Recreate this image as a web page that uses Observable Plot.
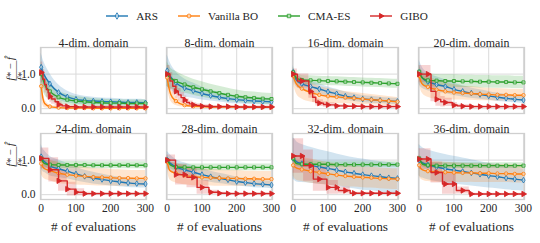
<!DOCTYPE html>
<html><head><meta charset="utf-8">
<script src="https://cdn.jsdelivr.net/npm/d3@7"></script>
<script src="https://cdn.jsdelivr.net/npm/@observablehq/plot@0.6"></script>
<style>
body{margin:0;background:#fff;font-family:"Liberation Serif",serif;color:#262626;}
#legend{height:30px;display:flex;justify-content:center;align-items:center;padding-top:2px;padding-right:6px;box-sizing:border-box;}
.item{display:flex;align-items:center;margin:0 10px;font-size:11.2px;}
.item svg{margin-right:8px;}
</style></head><body>
<div id="legend"></div>
<div id="chart"></div>
<script>
const PANELS = ["4-dim. domain","8-dim. domain","16-dim. domain","20-dim. domain","24-dim. domain","28-dim. domain","32-dim. domain","36-dim. domain"];
const METHODS = ["ARS","Vanilla BO","CMA-ES","GIBO"];
const COLORS = ["#1f77b4","#ff7f0e","#2ca02c","#d62728"];
const SYMBOLS = ["diamond","circle","square","triangle"];
const X_TICKS = [0,100,200,300];
const Y_TICKS = [0,1];
const X_LABEL = "# of evaluations";
const Y_NUM = "f* − f̂";
const Y_BAR = "——";
const Y_DEN = "f*";

const EVALS = [0,5,10,25,50,75,100,125,150,175,200,225,250,275,300];

const ARS_MEAN = [
 [1.2,1.05,0.95,0.72,0.47,0.34,0.27,0.24,0.22,0.21,0.2,0.19,0.18,0.18,0.17],
 [1.1,1.0,0.92,0.75,0.6,0.52,0.44,0.38,0.33,0.29,0.26,0.24,0.22,0.21,0.2],
 [1.05,0.9,0.82,0.72,0.64,0.57,0.49,0.43,0.36,0.32,0.28,0.26,0.24,0.22,0.21],
 [1.05,0.95,0.88,0.78,0.7,0.64,0.56,0.5,0.45,0.41,0.37,0.33,0.3,0.27,0.25],
 [1.1,1.0,0.95,0.83,0.75,0.68,0.6,0.53,0.48,0.44,0.4,0.37,0.34,0.32,0.31],
 [1.0,0.95,0.9,0.8,0.72,0.65,0.58,0.52,0.47,0.43,0.38,0.35,0.32,0.3,0.28],
 [1.05,1.0,0.95,0.9,0.85,0.8,0.76,0.71,0.66,0.62,0.58,0.55,0.52,0.49,0.47],
 [1.0,0.95,0.92,0.86,0.8,0.75,0.71,0.67,0.63,0.59,0.55,0.52,0.48,0.45,0.42]
];
const ARS_SD = [
 [0.4,0.38,0.35,0.3,0.22,0.17,0.14,0.12,0.11,0.1,0.1,0.1,0.09,0.09,0.09],
 [0.45,0.42,0.38,0.32,0.26,0.22,0.19,0.16,0.14,0.13,0.12,0.11,0.1,0.1,0.1],
 [0.2,0.2,0.19,0.17,0.16,0.15,0.14,0.13,0.12,0.11,0.1,0.1,0.09,0.09,0.09],
 [0.35,0.33,0.3,0.26,0.22,0.2,0.18,0.16,0.15,0.14,0.13,0.12,0.11,0.1,0.1],
 [0.35,0.33,0.31,0.28,0.25,0.22,0.2,0.18,0.17,0.16,0.15,0.14,0.13,0.12,0.12],
 [0.25,0.25,0.24,0.22,0.2,0.18,0.17,0.16,0.15,0.14,0.13,0.12,0.12,0.11,0.11],
 [0.6,0.6,0.58,0.55,0.52,0.5,0.48,0.47,0.46,0.45,0.45,0.44,0.44,0.44,0.43],
 [0.45,0.45,0.44,0.43,0.42,0.41,0.4,0.39,0.38,0.37,0.36,0.35,0.34,0.33,0.32]
];
const BO_MEAN = [
 [0.65,0.3,0.15,0.06,0.03,0.02,0.02,0.02,0.01,0.01,0.01,0.01,0.01,0.01,0.01],
 [0.9,0.6,0.42,0.22,0.1,0.07,0.06,0.05,0.05,0.05,0.05,0.04,0.04,0.04,0.04],
 [0.95,0.8,0.7,0.58,0.47,0.4,0.36,0.34,0.32,0.3,0.28,0.26,0.24,0.22,0.2],
 [0.95,0.78,0.7,0.63,0.55,0.5,0.47,0.45,0.44,0.42,0.41,0.4,0.4,0.39,0.39],
 [0.9,0.8,0.75,0.7,0.62,0.58,0.55,0.53,0.51,0.5,0.49,0.48,0.48,0.47,0.47],
 [0.95,0.75,0.68,0.62,0.56,0.52,0.5,0.49,0.48,0.47,0.47,0.46,0.46,0.45,0.45],
 [0.85,0.8,0.77,0.73,0.68,0.64,0.6,0.57,0.54,0.52,0.5,0.49,0.47,0.46,0.45],
 [0.85,0.75,0.72,0.68,0.66,0.65,0.64,0.63,0.63,0.62,0.62,0.61,0.61,0.6,0.6]
];
const BO_SD = [
 [0.3,0.2,0.12,0.05,0.03,0.02,0.02,0.02,0.02,0.02,0.02,0.02,0.02,0.02,0.02],
 [0.25,0.22,0.2,0.13,0.06,0.04,0.03,0.03,0.03,0.03,0.03,0.03,0.03,0.03,0.03],
 [0.2,0.25,0.28,0.3,0.28,0.25,0.22,0.2,0.18,0.17,0.16,0.15,0.14,0.13,0.12],
 [0.2,0.25,0.27,0.3,0.28,0.25,0.22,0.2,0.2,0.19,0.18,0.18,0.17,0.17,0.17],
 [0.3,0.3,0.3,0.3,0.3,0.28,0.27,0.26,0.25,0.25,0.24,0.24,0.23,0.23,0.23],
 [0.2,0.25,0.27,0.28,0.27,0.26,0.25,0.24,0.24,0.23,0.23,0.22,0.22,0.22,0.22],
 [0.3,0.35,0.35,0.35,0.35,0.34,0.33,0.32,0.31,0.3,0.3,0.3,0.3,0.3,0.3],
 [0.3,0.3,0.3,0.3,0.3,0.29,0.28,0.28,0.27,0.27,0.27,0.26,0.26,0.26,0.26]
];
const CMA_MEAN = [
 [1.0,0.85,0.7,0.5,0.33,0.26,0.22,0.2,0.18,0.17,0.16,0.16,0.15,0.15,0.15],
 [1.0,0.93,0.88,0.8,0.7,0.62,0.56,0.5,0.45,0.4,0.36,0.33,0.31,0.29,0.28],
 [1.05,0.95,0.88,0.83,0.82,0.81,0.8,0.79,0.78,0.77,0.76,0.75,0.74,0.73,0.72],
 [1.07,0.95,0.88,0.82,0.81,0.8,0.8,0.79,0.79,0.78,0.78,0.77,0.77,0.76,0.76],
 [1.05,0.95,0.9,0.87,0.86,0.86,0.86,0.86,0.85,0.85,0.85,0.85,0.85,0.85,0.85],
 [1.0,0.92,0.85,0.8,0.79,0.79,0.79,0.79,0.79,0.79,0.79,0.79,0.79,0.79,0.79],
 [1.05,0.95,0.9,0.88,0.88,0.88,0.88,0.87,0.87,0.87,0.87,0.87,0.87,0.87,0.87],
 [1.05,0.95,0.88,0.85,0.84,0.84,0.84,0.84,0.84,0.84,0.84,0.84,0.84,0.84,0.84]
];
const CMA_SD = [
 [0.35,0.33,0.3,0.25,0.18,0.15,0.13,0.12,0.11,0.11,0.1,0.1,0.1,0.1,0.1],
 [0.35,0.33,0.3,0.28,0.25,0.23,0.22,0.21,0.2,0.19,0.18,0.17,0.17,0.16,0.16],
 [0.15,0.14,0.13,0.13,0.13,0.13,0.13,0.13,0.13,0.13,0.13,0.13,0.13,0.13,0.13],
 [0.2,0.19,0.18,0.18,0.18,0.18,0.18,0.18,0.18,0.18,0.18,0.18,0.18,0.18,0.18],
 [0.12,0.11,0.1,0.1,0.1,0.1,0.1,0.1,0.1,0.1,0.1,0.1,0.1,0.1,0.1],
 [0.12,0.11,0.1,0.1,0.1,0.1,0.1,0.1,0.1,0.1,0.1,0.1,0.1,0.1,0.1],
 [0.1,0.09,0.08,0.08,0.08,0.08,0.08,0.08,0.08,0.08,0.08,0.08,0.08,0.08,0.08],
 [0.1,0.09,0.08,0.08,0.08,0.08,0.08,0.08,0.08,0.08,0.08,0.08,0.08,0.08,0.08]
];
const GIBO_EVALS = [
 [0,5,10,15,20,25,30,40,50,60,75,100,125,150,175,200,225,250,275,300],
 [0,8,16,25,32,40,50,56,64,75,85,100,125,150,175,200,225,250,275,300],
 [0,12,25,37,45,50,56,65,75,87,100,120,125,150,175,200,225,250,275,300],
 [0,25,34,48,50,62,75,95,100,110,125,150,175,200,225,250,275,300],
 [0,22,25,50,75,100,125,150,175,200,225,250,275,300],
 [0,24,25,50,57,75,86,100,120,125,150,175,200,225,250,275,300],
 [0,25,30,50,58,75,97,100,125,130,150,164,175,200,225,250,275,300],
 [0,25,34,50,67,75,100,107,125,144,150,175,200,225,250,275,300]
];
const GIBO_MEAN = [
 [1.05,0.85,0.7,0.55,0.45,0.35,0.28,0.2,0.12,0.08,0.06,0.05,0.05,0.05,0.05,0.05,0.05,0.05,0.05,0.05],
 [1.0,0.8,0.65,0.5,0.4,0.32,0.25,0.18,0.14,0.11,0.09,0.07,0.06,0.06,0.06,0.05,0.05,0.05,0.05,0.05],
 [1.0,0.8,0.8,0.8,0.5,0.5,0.33,0.18,0.16,0.12,0.11,0.08,0.08,0.07,0.07,0.06,0.06,0.06,0.06,0.06],
 [1.0,1.0,0.5,0.27,0.27,0.2,0.18,0.1,0.1,0.08,0.07,0.06,0.06,0.06,0.06,0.06,0.06,0.06],
 [1.05,0.72,0.72,0.4,0.16,0.07,0.03,0.03,0.03,0.03,0.03,0.03,0.03,0.03],
 [1.0,0.58,0.58,0.58,0.5,0.5,0.21,0.21,0.07,0.07,0.04,0.03,0.03,0.03,0.03,0.03,0.03],
 [1.12,1.12,0.84,0.84,0.45,0.45,0.21,0.21,0.21,0.12,0.12,0.04,0.04,0.04,0.04,0.04,0.04,0.04],
 [1.03,1.03,0.64,0.64,0.31,0.31,0.31,0.12,0.12,0.02,0.02,0.02,0.02,0.02,0.02,0.02,0.02]
];
const GIBO_SD = [
 [0.3,0.28,0.25,0.22,0.2,0.18,0.15,0.12,0.08,0.05,0.04,0.03,0.03,0.03,0.03,0.03,0.03,0.03,0.03,0.03],
 [0.25,0.25,0.22,0.2,0.18,0.15,0.12,0.1,0.08,0.06,0.05,0.04,0.03,0.03,0.03,0.03,0.03,0.03,0.03,0.03],
 [0.15,0.2,0.2,0.2,0.2,0.2,0.15,0.1,0.1,0.08,0.06,0.04,0.04,0.03,0.03,0.03,0.03,0.03,0.03,0.03],
 [0.25,0.25,0.3,0.2,0.2,0.15,0.12,0.08,0.08,0.05,0.04,0.03,0.03,0.03,0.03,0.03,0.03,0.03],
 [0.3,0.35,0.35,0.3,0.2,0.1,0.04,0.03,0.03,0.03,0.03,0.03,0.03,0.03],
 [0.15,0.3,0.3,0.3,0.3,0.3,0.2,0.2,0.06,0.06,0.03,0.03,0.03,0.03,0.03,0.03,0.03],
 [0.5,0.5,0.45,0.45,0.35,0.35,0.2,0.2,0.2,0.1,0.1,0.03,0.03,0.03,0.03,0.03,0.03,0.03],
 [0.3,0.3,0.3,0.3,0.3,0.3,0.3,0.1,0.1,0.02,0.02,0.02,0.02,0.02,0.02,0.02,0.02]
];

// ---- build table ----
const rows = [];
PANELS.forEach((title, p) => {
  const row = Math.floor(p / 4), col = p % 4;
  const series = [
    ["ARS", EVALS, ARS_MEAN[p], ARS_SD[p]],
    ["Vanilla BO", EVALS, BO_MEAN[p], BO_SD[p]],
    ["CMA-ES", EVALS, CMA_MEAN[p], CMA_SD[p]],
    ["GIBO", GIBO_EVALS[p], GIBO_MEAN[p], GIBO_SD[p]]
  ];
  for (const [method, xs, m, s] of series) {
    xs.forEach((e, i) => rows.push({panel: p, row, col, method, e, mean: m[i], lo: m[i] - s[i], hi: m[i] + s[i]}));
  }
});
const titles = PANELS.map((t, p) => ({title: t, row: Math.floor(p / 4), col: p % 4}));

const col = m => COLORS[METHODS.indexOf(m)];
const curveOf = m => m === "GIBO" ? "step-after" : "monotone-x";
const FONT = "Liberation Serif";

const marks = [
  Plot.gridX(X_TICKS, {stroke: "#dadada", strokeOpacity: 1, strokeWidth: 1}),
  Plot.gridY(Y_TICKS, {stroke: "#dadada", strokeOpacity: 1, strokeWidth: 1}),
  Plot.frame({stroke: "#cfcfcf", strokeWidth: 1.3})
];
for (const m of METHODS) {
  marks.push(Plot.areaY(rows.filter(d => d.method === m), {
    x: "e", y1: "lo", y2: "hi", fx: "col", fy: "row", z: "panel",
    fill: col(m), fillOpacity: 0.2, curve: curveOf(m), clip: true
  }));
}
METHODS.forEach((m, k) => {
  const data = rows.filter(d => d.method === m);
  marks.push(Plot.lineY(data, {
    x: "e", y: "mean", fx: "col", fy: "row", z: "panel",
    stroke: col(m), strokeWidth: 1.4, curve: curveOf(m)
  }));
  marks.push(Plot.dot(data.filter(d => d.e % 25 === 0), {
    x: "e", y: "mean", fx: "col", fy: "row",
    symbol: SYMBOLS[k], r: m === "GIBO" ? 2 : 1.7,
    rotate: m === "GIBO" ? 90 : 0,
    fill: m === "GIBO" ? col(m) : "white", fillOpacity: m === "GIBO" ? 1 : 0.5,
    stroke: col(m), strokeWidth: 0.9
  }));
});
const left = titles.filter(d => d.col === 0);
marks.push(
  Plot.axisX({ticks: X_TICKS, tickSize: 0, tickPadding: 4, fontSize: 11.5, label: null}),
  Plot.axisY({ticks: Y_TICKS, tickSize: 0, tickPadding: 5, fontSize: 11.5, label: null}),
  Plot.text(titles, {fx: "col", fy: "row", text: "title", frameAnchor: "top", dy: -9, fontSize: 11.9}),
  Plot.text(titles.filter(d => d.row === 1), {fx: "col", fy: "row", text: () => X_LABEL, frameAnchor: "bottom", dy: 31, fontSize: 13.3}),
  Plot.text(left, {fx: "col", fy: "row", text: () => Y_NUM, frameAnchor: "left", dx: -30, rotate: -90, fontSize: 10.5, fontStyle: "italic"}),
  Plot.text(left, {fx: "col", fy: "row", text: () => Y_BAR, frameAnchor: "left", dx: -24.5, rotate: -90, fontSize: 10}),
  Plot.text(left, {fx: "col", fy: "row", text: () => Y_DEN, frameAnchor: "left", dx: -19, rotate: -90, fontSize: 10.5, fontStyle: "italic"})
);

const chart = Plot.plot({
  width: 540, height: 213,
  marginTop: 17, marginBottom: 44, marginLeft: 40, marginRight: 16,
  style: {fontFamily: FONT, fontSize: "11.5px", color: "#262626", background: "white"},
  x: {domain: [-2, 303], label: null},
  y: {domain: [-0.14, 1.77], label: null},
  fx: {domain: [0, 1, 2, 3], paddingInner: 20 / 126, paddingOuter: 0, axis: null, label: null},
  fy: {domain: [0, 1], paddingInner: 20 / 86, paddingOuter: 0, axis: null, label: null},
  marks
});
document.getElementById("chart").appendChild(chart);

// ---- legend ----
const legend = d3.select("#legend");
METHODS.forEach((m, k) => {
  const item = legend.append("div").attr("class", "item");
  const svg = item.append("svg").attr("width", 22).attr("height", 10);
  svg.append("line").attr("x1", 0).attr("x2", 22).attr("y1", 5).attr("y2", 5)
    .attr("stroke", COLORS[k]).attr("stroke-width", 1.4);
  const sym = {diamond: d3.symbolDiamond, circle: d3.symbolCircle, square: d3.symbolSquare, triangle: d3.symbolTriangle}[SYMBOLS[k]];
  svg.append("path").attr("d", d3.symbol(sym, 12)())
    .attr("transform", `translate(11,5) rotate(${m === "GIBO" ? 90 : 0})`)
    .attr("fill", m === "GIBO" ? COLORS[k] : "white").attr("fill-opacity", m === "GIBO" ? 1 : 0.5)
    .attr("stroke", COLORS[k]).attr("stroke-width", 0.9);
  item.append("span").text(m);
});
</script>
</body></html>
